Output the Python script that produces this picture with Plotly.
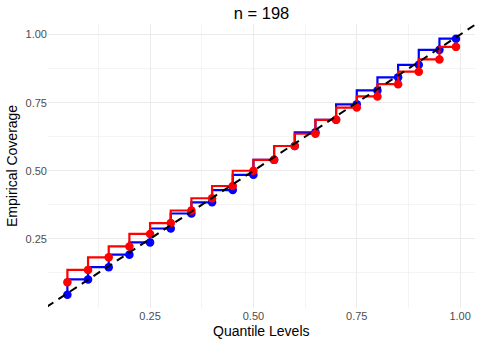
import plotly.graph_objects as go

levels = [0.05, 0.10, 0.15, 0.20, 0.25, 0.30, 0.35, 0.40, 0.45, 0.50,
          0.55, 0.60, 0.65, 0.70, 0.75, 0.80, 0.85, 0.90, 0.95, 0.99]
blue_cov = [0.045, 0.101, 0.146, 0.192, 0.237, 0.288, 0.343, 0.384, 0.429, 0.485,
            0.540, 0.591, 0.641, 0.687, 0.744, 0.795, 0.843, 0.889, 0.944, 0.985]
red_cov = [0.091, 0.136, 0.182, 0.222, 0.268, 0.308, 0.354, 0.399, 0.444, 0.500,
           0.540, 0.591, 0.636, 0.687, 0.732, 0.773, 0.818, 0.864, 0.909, 0.955]
diag = [0.0, 1.1]
title_text = "n = 198"
x_title = "Quantile Levels"
y_title = "Empirical Coverage"
tick_vals = [0.25, 0.50, 0.75, 1.00]
tick_text = ["0.25", "0.50", "0.75", "1.00"]

FONT = "Liberation Sans, Arial, Helvetica, sans-serif"

fig = go.Figure()
for vals, col in [(blue_cov, "#0000FF"), (red_cov, "#FF0000")]:
    fig.add_trace(go.Scatter(x=levels, y=vals, mode="lines+markers",
                             line=dict(color=col, width=2.2, shape="vh"),
                             marker=dict(color=col, size=8.5),
                             hoverinfo="skip", showlegend=False))
fig.add_trace(go.Scatter(x=diag, y=diag, mode="lines",
                         line=dict(color="black", width=2, dash="8px,6px"),
                         hoverinfo="skip", showlegend=False))

grid = "#ebebeb"
axis_common = dict(
    tickvals=tick_vals, ticktext=tick_text, showgrid=True, gridcolor=grid, gridwidth=1.1,
    zeroline=False, showline=False, ticks="", automargin=False,
    tickfont=dict(family=FONT, size=11, color="#4d4d4d"),
    minor=dict(tick0=0.125, dtick=0.25, showgrid=True, gridcolor=grid, gridwidth=0.55, ticks=""),
)
fig.update_xaxes(**axis_common, range=[0.0031, 1.036])
fig.update_yaxes(**axis_common, range=[-0.004, 1.039])

fig.add_annotation(text=x_title, xref="paper", yref="paper", x=0.5, y=-0.081,
                   xanchor="center", yanchor="middle", showarrow=False,
                   font=dict(family=FONT, size=14, color="black"))
fig.add_annotation(text=y_title, xref="paper", yref="paper", x=-0.0843, y=0.5,
                   xanchor="center", yanchor="middle", showarrow=False, textangle=-90,
                   font=dict(family=FONT, size=14, color="black"))

fig.update_layout(
    width=482, height=344,
    margin=dict(l=48, r=7, t=24, b=36),
    plot_bgcolor="white", paper_bgcolor="white",
    title=dict(text=title_text, x=0.5425, xanchor="center", y=0.962, yanchor="middle",
               font=dict(family=FONT, size=16.5, color="black")),
)
fig.write_html("out.html",
               config={"displayModeBar": False, "staticPlot": True},
               post_script="document.body.style.margin='0';document.body.style.overflow='hidden';")
